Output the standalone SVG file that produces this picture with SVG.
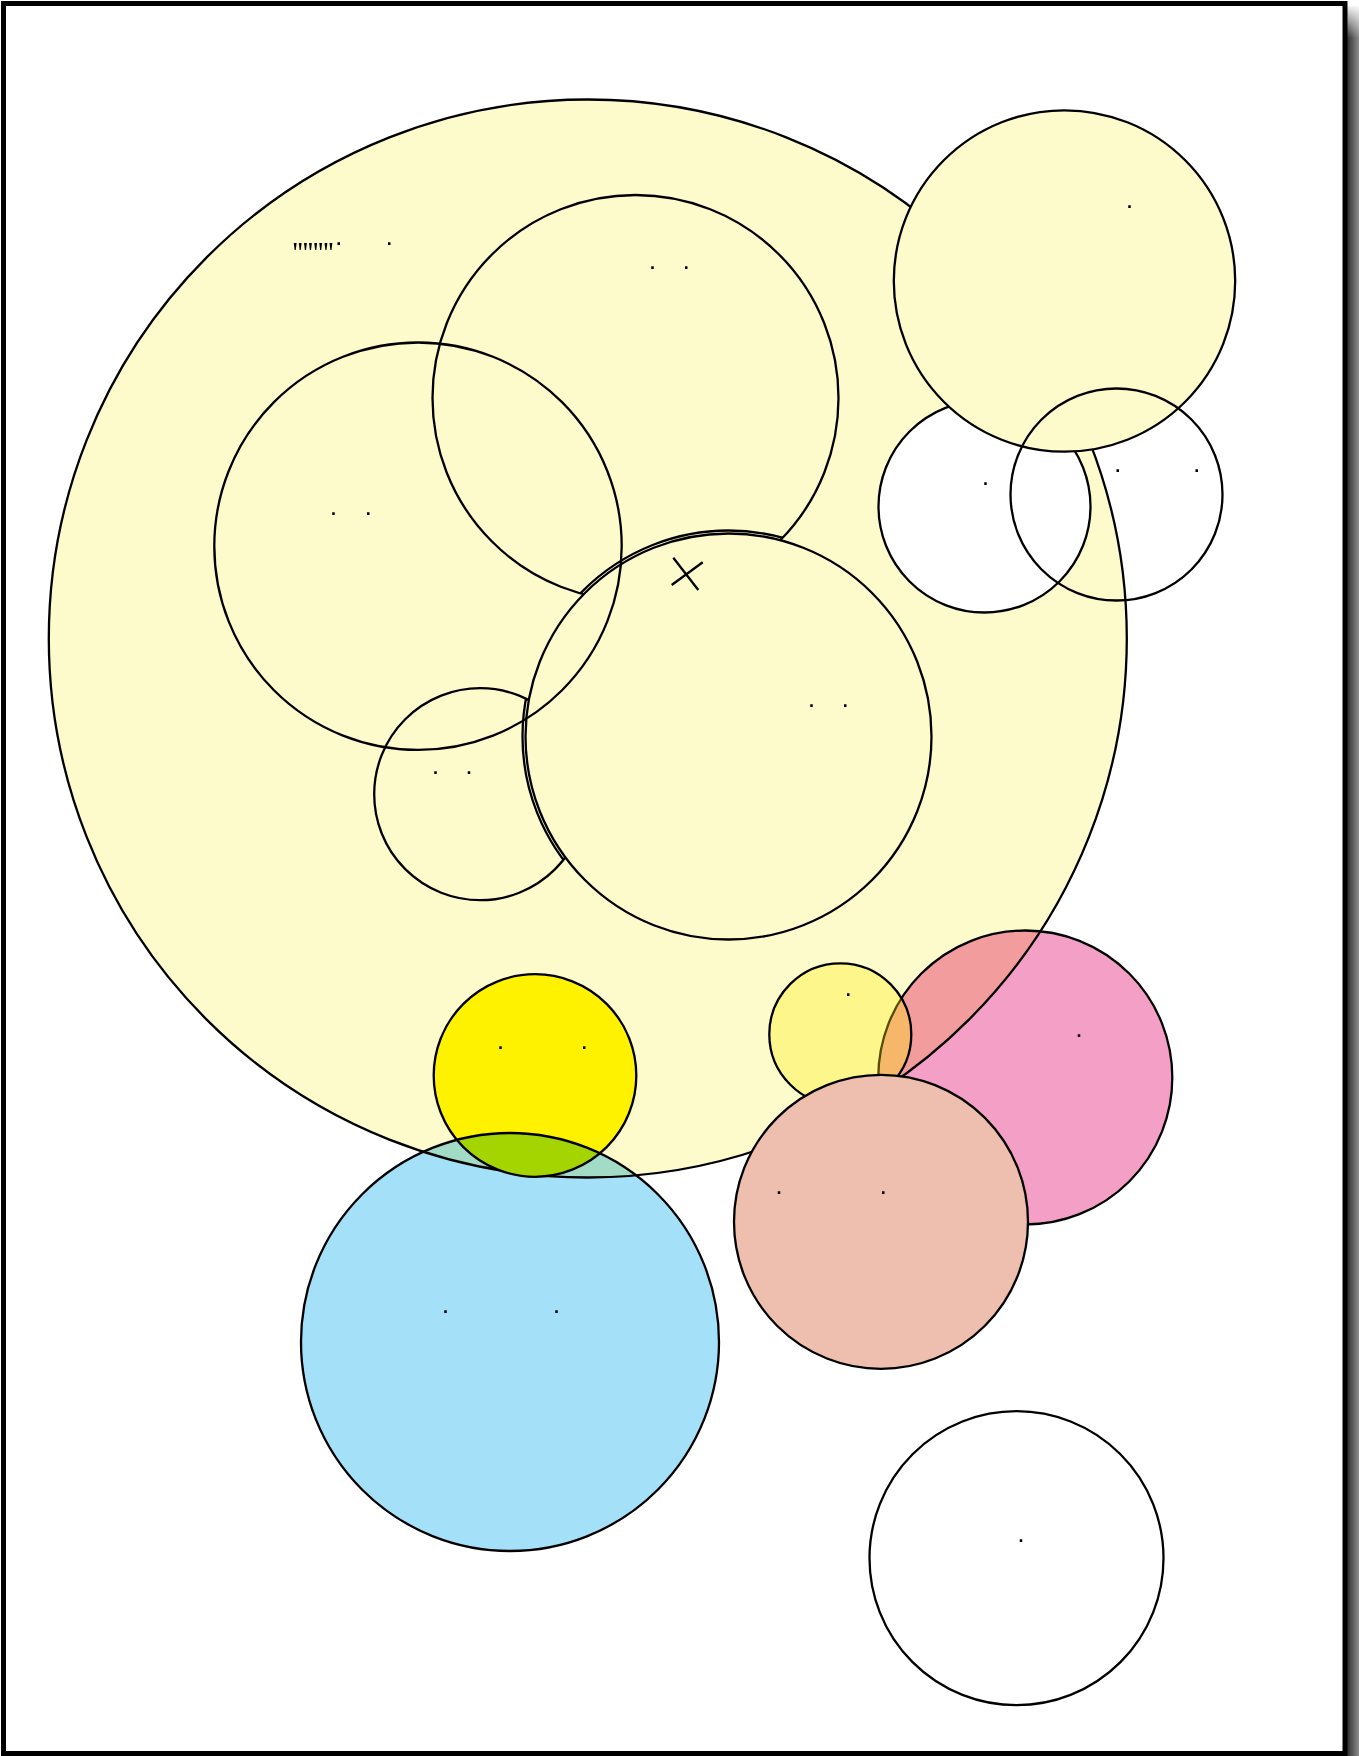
<svg xmlns="http://www.w3.org/2000/svg" width="1359" height="1756" viewBox="0 0 1359 1756">
<style>
.s{stroke:#000;stroke-width:2.3}
.y{fill:#FDFACC}
.n{fill:none}
.d{font-family:"Liberation Sans",Arial,sans-serif;font-size:18px;font-weight:bold;text-anchor:middle;fill:#000}
.mul{mix-blend-mode:multiply}
</style>
<defs>
<linearGradient id="sh" x1="0" y1="0" x2="1" y2="0">
<stop offset="0" stop-color="#2e2e2e"/>
<stop offset="1" stop-color="#8c8c8c"/>
</linearGradient>
<linearGradient id="shTop" x1="0" y1="0" x2="0" y2="1">
<stop offset="0" stop-color="#fff" stop-opacity="1"/>
<stop offset="1" stop-color="#fff" stop-opacity="0"/>
</linearGradient>
<clipPath id="clipA"><circle cx="635.5" cy="398" r="203"/></clipPath>
<clipPath id="clipD"><circle cx="480.2" cy="794.2" r="106"/></clipPath>
</defs>
<g id="frame">
<rect x="0" y="0" width="1359" height="1756" fill="#fff"/>
<rect x="1347" y="6" width="12" height="1750" fill="url(#sh)"/>
<rect x="1347" y="4" width="12" height="34" fill="url(#shTop)"/>
<rect x="3.5" y="3.5" width="1341.5" height="1750" fill="#fff" stroke="#000" stroke-width="5"/>
</g>
<g id="big">
<circle class="y s" cx="587.8" cy="638.5" r="539"/>
<text class="d" x="338.7" y="245">.</text>
<text class="d" x="389.3" y="245">.</text>
<text x="292.5" y="262" style="font-family:'Liberation Serif',serif;font-size:30px;letter-spacing:-0.3px;fill:#000">''''''''</text>
</g>
<g id="nodeA">
<circle class="y s" cx="635.5" cy="398" r="203"/>
<text class="d" x="652.6" y="268.8">.</text>
<text class="d" x="686.2" y="268.8">.</text>
</g>
<g id="nodeD">
<circle class="y s" cx="480.2" cy="794.2" r="106"/>
<text class="d" x="435.5" y="773.7">.</text>
<text class="d" x="469" y="773.7">.</text>
</g>
<g id="nodeC">
<circle class="y s" cx="728.5" cy="736.5" r="203"/>
<circle class="n s" cx="728.5" cy="736.5" r="206" clip-path="url(#clipA)"/>
<circle class="n s" cx="728.5" cy="736.5" r="206" clip-path="url(#clipD)"/>
<text class="d" x="811.6" y="706.5">.</text>
<text class="d" x="845.2" y="706.5">.</text>
<path class="n s" d="M673.3 557.7 L698.3 590 M671.7 585 L702.7 562.3"/>
</g>
<g id="nodeB">
<circle class="n s" cx="418" cy="546.2" r="203.7"/>
<text class="d" x="333.6" y="515.1">.</text>
<text class="d" x="368.3" y="515.1">.</text>
</g>
<g id="nodeF">
<circle class="s" fill="#fff" cx="984.5" cy="506.5" r="106"/>
<text class="d" x="985.5" y="485.3">.</text>
</g>
<g id="nodeE">
<circle class="y s" cx="1064.5" cy="281" r="170.7"/>
<text class="d" x="1129.5" y="208.4">.</text>
</g>
<g id="nodeG">
<circle class="n s" cx="1116.5" cy="494.5" r="106"/>
<text class="d" x="1117.7" y="472">.</text>
<text class="d" x="1196.7" y="472">.</text>
</g>
<g id="nodeH">
<circle class="s" fill="#FFF200" cx="535" cy="1075.5" r="101.3"/>
<text class="d" x="500.4" y="1049.1">.</text>
<text class="d" x="584.3" y="1049.1">.</text>
</g>
<g id="nodeI">
<circle class="s mul" fill="#A4E1F8" cx="510" cy="1342" r="209"/>
<text class="d" x="445.5" y="1313.3">.</text>
<text class="d" x="556.4" y="1313.3">.</text>
</g>
<g id="nodeJ">
<circle class="s mul" fill="#F49FC5" cx="1025.3" cy="1077.5" r="147"/>
<text class="d" x="1079.1" y="1036.8">.</text>
</g>
<g id="nodeK">
<circle cx="840.3" cy="1034.3" r="71" fill="#FFF000" fill-opacity="0.32" stroke="#000" stroke-width="2.3"/>
<text class="d" x="848.3" y="996.3">.</text>
</g>
<g id="nodeL">
<circle class="s" fill="#EEBFAE" cx="881" cy="1221.8" r="147"/>
<text class="d" x="779.1" y="1193.5">.</text>
<text class="d" x="883.2" y="1193.5">.</text>
</g>
<g id="nodeM">
<circle class="s" fill="#fff" cx="1016.5" cy="1558.2" r="147"/>
<text class="d" x="1020.9" y="1541.7">.</text>
</g>
</svg>
